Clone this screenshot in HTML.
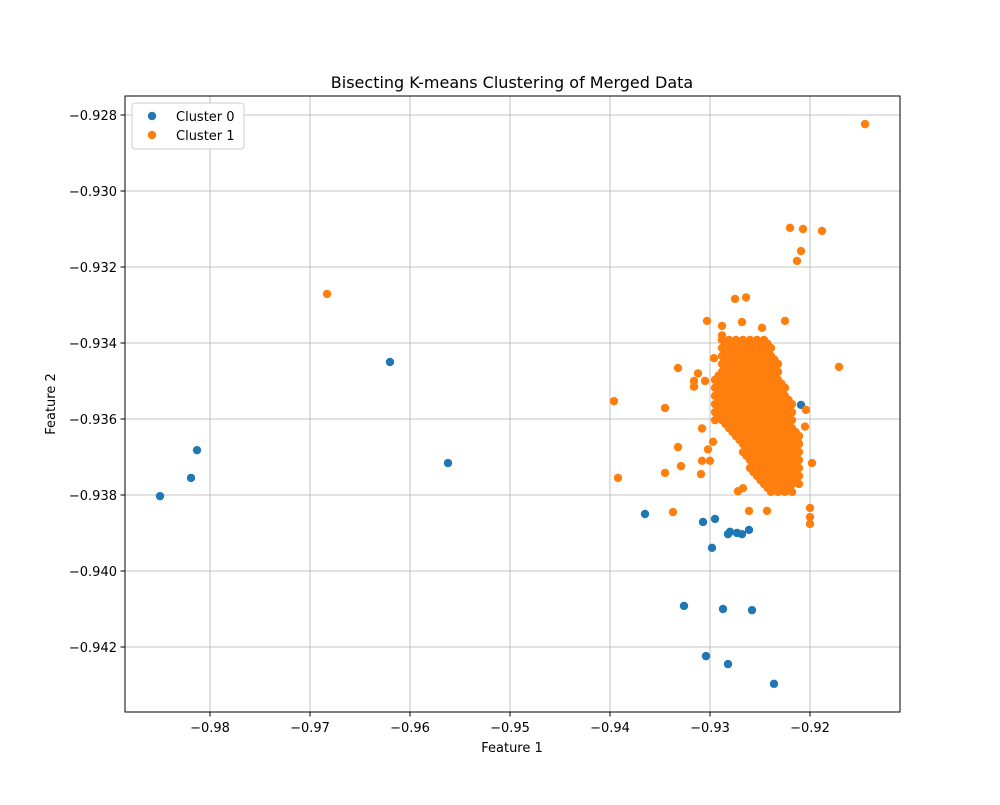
<!DOCTYPE html>
<html><head><meta charset="utf-8"><style>
body{margin:0;background:#fff;font-family:"Liberation Sans","DejaVu Sans",sans-serif}
svg text{font-family:"DejaVu Sans","Liberation Sans",sans-serif}
</style></head><body>
<svg id="chart" width="1000" height="800" xmlns="http://www.w3.org/2000/svg">
<rect width="1000" height="800" fill="#fff"/>
<text x="512" y="88" font-size="16" text-anchor="middle">Bisecting K-means Clustering of Merged Data</text>
<g id="grid"></g><g id="marks"></g>
<rect x="125" y="96" width="775" height="616" fill="none" stroke="#000" stroke-width="1"/>
<g id="ticks"></g>
<text x="512" y="752" font-size="13" text-anchor="middle">Feature 1</text>
<text transform="translate(55,404) rotate(-90)" font-size="13" text-anchor="middle">Feature 2</text>
<g>
<rect x="132" y="103" width="112" height="46" fill="#fff" stroke="#ccc" rx="3"/>
<circle cx="152" cy="116" r="4.2" fill="#1f77b4"/>
<text x="176" y="121" font-size="13">Cluster 0</text>
<circle cx="152" cy="135" r="4.2" fill="#ff7f0e"/>
<text x="176" y="140" font-size="13">Cluster 1</text>
</g>
</svg>
<script>
const xTicks=[-0.98,-0.97,-0.96,-0.95,-0.94,-0.93,-0.92];
const yTicks=[-0.928,-0.930,-0.932,-0.934,-0.936,-0.938,-0.940,-0.942];
const cluster0X=[-0.985,-0.9819,-0.9813,-0.962,-0.9562,-0.9365,-0.9307,-0.9295,-0.9298,-0.9282,-0.928,-0.9273,-0.9268,-0.9261,-0.9326,-0.9287,-0.9258,-0.9304,-0.9282,-0.9236,-0.9209];
const cluster0Y=[-0.93803,-0.93755,-0.93682,-0.9345,-0.93716,-0.9385,-0.93871,-0.93863,-0.93939,-0.93903,-0.93897,-0.939,-0.93903,-0.93892,-0.94092,-0.941,-0.94103,-0.94224,-0.94245,-0.94297,-0.93563];
const cluster1OutX=[-0.9145,-0.9683,-0.9396,-0.9392,-0.9345,-0.9345,-0.9337,-0.9332,-0.9332,-0.9329,-0.9316,-0.9316,-0.9171,-0.922,-0.9207,-0.9188,-0.9209,-0.9213,-0.9225,-0.92,-0.92,-0.92,-0.9198,-0.9204,-0.9243,-0.9261,-0.9267,-0.9272,-0.9275,-0.9264,-0.9268,-0.9303,-0.9288,-0.9288,-0.9309,-0.9308,-0.9308,-0.9302,-0.9296,-0.9312,-0.9305,-0.9297,-0.9300,-0.9248,-0.9235,-0.9212,-0.9205];
const cluster1OutY=[-0.92824,-0.93271,-0.93553,-0.93755,-0.93571,-0.93742,-0.93845,-0.93466,-0.93674,-0.93724,-0.935,-0.93515,-0.93463,-0.93097,-0.931,-0.93105,-0.93158,-0.93184,-0.93342,-0.93834,-0.93858,-0.93876,-0.93716,-0.93576,-0.93842,-0.93842,-0.93782,-0.9379,-0.93284,-0.9328,-0.93345,-0.93342,-0.93355,-0.9338,-0.93745,-0.9371,-0.93625,-0.9368,-0.9344,-0.9348,-0.9350,-0.9366,-0.9371,-0.9336,-0.9378,-0.9366,-0.9362];
const blobRowY=[-0.93392,-0.93413,-0.93434,-0.93455,-0.93476,-0.93497,-0.93518,-0.93539,-0.93561,-0.93582,-0.93603,-0.93624,-0.93645,-0.93666,-0.93687,-0.93708,-0.93729,-0.9375,-0.93771,-0.93792];
const blobRowX=[
[-0.9288,-0.9281,-0.9274,-0.9267,-0.9260,-0.9253,-0.9246],
[-0.9288,-0.9281,-0.9274,-0.9267,-0.9260,-0.9253,-0.9246,-0.9239],
[-0.9288,-0.9281,-0.9274,-0.9267,-0.9260,-0.9253,-0.9246,-0.9239],
[-0.9288,-0.9281,-0.9274,-0.9267,-0.9260,-0.9253,-0.9246,-0.9239,-0.9232],
[-0.9288,-0.9281,-0.9274,-0.9267,-0.9260,-0.9253,-0.9246,-0.9239,-0.9232],
[-0.9295,-0.9288,-0.9281,-0.9274,-0.9267,-0.9260,-0.9253,-0.9246,-0.9239,-0.9232],
[-0.9295,-0.9288,-0.9281,-0.9274,-0.9267,-0.9260,-0.9253,-0.9246,-0.9239,-0.9232,-0.9225],
[-0.9295,-0.9288,-0.9281,-0.9274,-0.9267,-0.9260,-0.9253,-0.9246,-0.9239,-0.9232,-0.9225],
[-0.9295,-0.9288,-0.9281,-0.9274,-0.9267,-0.9260,-0.9253,-0.9246,-0.9239,-0.9232,-0.9225,-0.9218],
[-0.9295,-0.9288,-0.9281,-0.9274,-0.9267,-0.9260,-0.9253,-0.9246,-0.9239,-0.9232,-0.9225,-0.9218],
[-0.9295,-0.9288,-0.9281,-0.9274,-0.9267,-0.9260,-0.9253,-0.9246,-0.9239,-0.9232,-0.9225,-0.9218],
[-0.9281,-0.9274,-0.9267,-0.9260,-0.9253,-0.9246,-0.9239,-0.9232,-0.9225,-0.9218],
[-0.9274,-0.9267,-0.9260,-0.9253,-0.9246,-0.9239,-0.9232,-0.9225,-0.9218,-0.9211],
[-0.9267,-0.9260,-0.9253,-0.9246,-0.9239,-0.9232,-0.9225,-0.9218,-0.9211],
[-0.9267,-0.9260,-0.9253,-0.9246,-0.9239,-0.9232,-0.9225,-0.9218,-0.9211],
[-0.9260,-0.9253,-0.9246,-0.9239,-0.9232,-0.9225,-0.9218,-0.9211],
[-0.9260,-0.9253,-0.9246,-0.9239,-0.9232,-0.9225,-0.9218,-0.9211],
[-0.9253,-0.9246,-0.9239,-0.9232,-0.9225,-0.9218,-0.9211],
[-0.9246,-0.9239,-0.9232,-0.9225,-0.9218,-0.9211],
[-0.9239,-0.9232,-0.9225,-0.9218]];
const blobMidY=[-0.93402,-0.93423,-0.93444,-0.93465,-0.93486,-0.93507,-0.93528,-0.9355,-0.93571,-0.93592,-0.93613,-0.93634,-0.93655,-0.93676,-0.93697,-0.93718,-0.9374,-0.93761,-0.93781];
const blobMidX=[
[-0.92845,-0.92775,-0.92705,-0.92635,-0.92565,-0.92495,-0.92425],
[-0.92845,-0.92775,-0.92705,-0.92635,-0.92565,-0.92495,-0.92425],
[-0.92845,-0.92775,-0.92705,-0.92635,-0.92565,-0.92495,-0.92425,-0.92355],
[-0.92845,-0.92775,-0.92705,-0.92635,-0.92565,-0.92495,-0.92425,-0.92355],
[-0.92915,-0.92845,-0.92775,-0.92705,-0.92635,-0.92565,-0.92495,-0.92425,-0.92355],
[-0.92915,-0.92845,-0.92775,-0.92705,-0.92635,-0.92565,-0.92495,-0.92425,-0.92355,-0.92285],
[-0.92915,-0.92845,-0.92775,-0.92705,-0.92635,-0.92565,-0.92495,-0.92425,-0.92355,-0.92285],
[-0.92915,-0.92845,-0.92775,-0.92705,-0.92635,-0.92565,-0.92495,-0.92425,-0.92355,-0.92285,-0.92215],
[-0.92915,-0.92845,-0.92775,-0.92705,-0.92635,-0.92565,-0.92495,-0.92425,-0.92355,-0.92285,-0.92215],
[-0.92915,-0.92845,-0.92775,-0.92705,-0.92635,-0.92565,-0.92495,-0.92425,-0.92355,-0.92285,-0.92215],
[-0.92845,-0.92775,-0.92705,-0.92635,-0.92565,-0.92495,-0.92425,-0.92355,-0.92285,-0.92215],
[-0.92775,-0.92705,-0.92635,-0.92565,-0.92495,-0.92425,-0.92355,-0.92285,-0.92215,-0.92145],
[-0.92705,-0.92635,-0.92565,-0.92495,-0.92425,-0.92355,-0.92285,-0.92215,-0.92145],
[-0.92635,-0.92565,-0.92495,-0.92425,-0.92355,-0.92285,-0.92215,-0.92145],
[-0.92635,-0.92565,-0.92495,-0.92425,-0.92355,-0.92285,-0.92215,-0.92145],
[-0.92565,-0.92495,-0.92425,-0.92355,-0.92285,-0.92215,-0.92145],
[-0.92565,-0.92495,-0.92425,-0.92355,-0.92285,-0.92215,-0.92145],
[-0.92495,-0.92425,-0.92355,-0.92285,-0.92215,-0.92145],
[-0.92425,-0.92355,-0.92285,-0.92215]];
const X=v=>210+(v+0.98)*10000;
const Y=v=>115+(-0.928-v)*38000;
const NS="http://www.w3.org/2000/svg";
const grid=document.getElementById('grid'),ticks=document.getElementById('ticks'),marks=document.getElementById('marks');
function mk(tag,attrs,parent){const e=document.createElementNS(NS,tag);for(const k in attrs)e.setAttribute(k,attrs[k]);parent.appendChild(e);return e;}
xTicks.forEach(t=>{const x=X(t);
 const g=mk('line',{x1:x,x2:x,y1:96,y2:712,stroke:'#b0b0b0','stroke-width':0.8},grid);
 
 
 mk('line',{x1:x,x2:x,y1:712,y2:716.5,stroke:'#000'},ticks);
 const l=mk('text',{x:x,y:732,'font-size':13,'text-anchor':'middle'},ticks);
 
 
 l.textContent=t.toFixed(2).replace('-','\u2212');});
yTicks.forEach(t=>{const y=Y(t);
 const g=mk('line',{x1:125,x2:900,y1:y,y2:y,stroke:'#b0b0b0','stroke-width':0.8},grid);
 
 
 mk('line',{x1:120.5,x2:125,y1:y,y2:y,stroke:'#000'},ticks);
 const l=mk('text',{x:117,y:y+5,'font-size':13,'text-anchor':'end'},ticks);
 
 
 l.textContent=t.toFixed(3).replace('-','\u2212');});
const cluster1X=cluster1OutX.slice(), cluster1Y=cluster1OutY.slice();
blobRowX.forEach((row,i)=>row.forEach(v=>{cluster1X.push(v);cluster1Y.push(blobRowY[i]);}));
blobMidX.forEach((row,i)=>row.forEach(v=>{cluster1X.push(v);cluster1Y.push(blobMidY[i]);}));
cluster0X.forEach((v,i)=>{const c=mk('circle',{cx:X(v),cy:Y(cluster0Y[i]),r:4.2,fill:'#1f77b4'},marks);
 
 });
cluster1X.forEach((v,i)=>{const c=mk('circle',{cx:X(v),cy:Y(cluster1Y[i]),r:4.2,fill:'#ff7f0e'},marks);
 
 });
</script>
</body></html>
